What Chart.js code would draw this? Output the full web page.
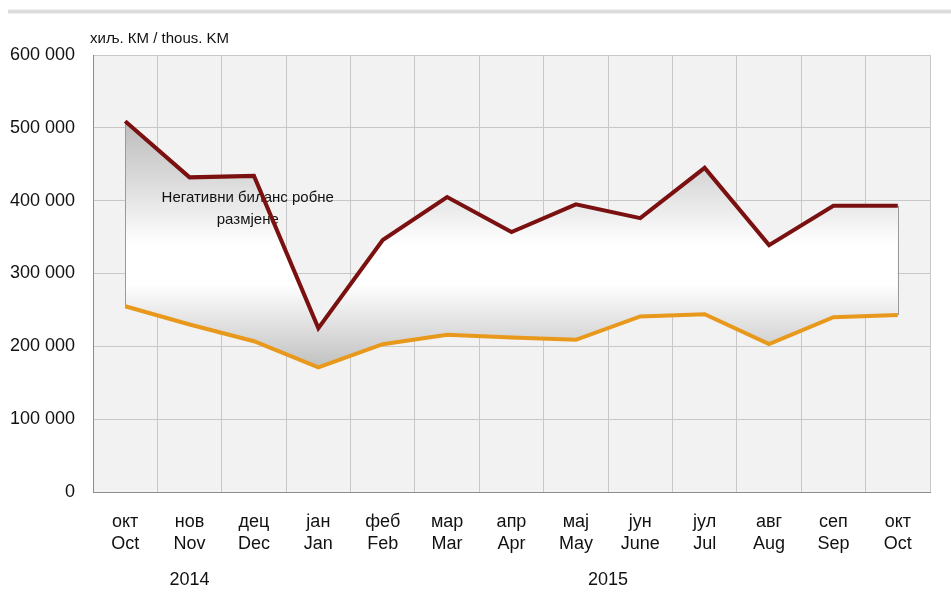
<!DOCTYPE html>
<html>
<head>
<meta charset="utf-8">
<script src="https://cdn.jsdelivr.net/npm/chart.js@4/dist/chart.umd.min.js"></script>
<style>
  html, body { margin: 0; padding: 0; background: #fff; }
  #wrap { position: relative; width: 951px; height: 607px; }
  #topline {
    position: absolute; left: 8px; right: 0; top: 9px; height: 5px;
    background: linear-gradient(to bottom, #f4f4f4, #d6d6d6 50%, #f0f0f0);
  }
  canvas { position: absolute; left: 0; top: 0; }
</style>
</head>
<body>
<div id="wrap">
  <div id="topline"></div>
  <canvas id="balanceChart" width="951" height="607"></canvas>
</div>
<script>
// месеци / months
const monthsSr = ['окт', 'нов', 'дец', 'јан', 'феб', 'мар', 'апр', 'мај', 'јун', 'јул', 'авг', 'сеп', 'окт'];
const monthsEn = ['Oct', 'Nov', 'Dec', 'Jan', 'Feb', 'Mar', 'Apr', 'May', 'June', 'Jul', 'Aug', 'Sep', 'Oct'];
const years = ['2014', '2015'];

// хиљ. КМ / thous. KM
const imports = [509000, 432000, 434000, 225000, 346000, 405000, 357000, 395000, 376000, 445000, 339000, 393000, 393000];
const exports = [255000, 230000, 207000, 171000, 203000, 216000, 212000, 209000, 241000, 244000, 203000, 240000, 243000];

const yTicks = [0, 100000, 200000, 300000, 400000, 500000, 600000];

const unitLabel = 'хиљ. КМ / thous. KM';
const noteLines = ['Негативни биланс робне', 'размјене'];

const FONT = "'Liberation Sans Narrow', 'Arial Narrow', 'Liberation Sans', Arial, sans-serif";

const labels = monthsSr.map((m, i) => [m, monthsEn[i]]);

function fmt(v) {
    return String(v).replace(/\B(?=(\d{3})+(?!\d))/g, ' ');
}

function balanceFill(context) {
    const chart = context.chart;
    const area = chart.chartArea;
    if (!area) return '#e0e0e0';
    const y = chart.scales.y;
    const top = y.getPixelForValue(Math.max(...imports));
    const bottom = y.getPixelForValue(Math.min(...exports));
    const g = chart.ctx.createLinearGradient(0, top, 0, bottom);
    g.addColorStop(0, '#bcbcbc');
    g.addColorStop(0.25, '#dcdcdc');
    g.addColorStop(0.5, '#ffffff');
    g.addColorStop(0.66, '#ffffff');
    g.addColorStop(1, '#c0c0c0');
    return g;
}

// позадина, ивице попуне и текстови
const extras = {
    id: 'extras',
    beforeDraw(chart) {
        const { ctx, chartArea: a } = chart;
        ctx.save();
        ctx.fillStyle = '#f2f2f2';
        ctx.fillRect(a.left, a.top, a.right - a.left, a.bottom - a.top);
        ctx.restore();
    },
    beforeDatasetsDraw(chart) {
        const { ctx } = chart;
        const x = chart.scales.x, y = chart.scales.y;
        const last = imports.length - 1;
        ctx.save();
        ctx.strokeStyle = '#9a9a9a';
        ctx.lineWidth = 1;
        [0, last].forEach(i => {
            const px = Math.round(x.getPixelForValue(i)) + 0.5;
            ctx.beginPath();
            ctx.moveTo(px, y.getPixelForValue(imports[i]));
            ctx.lineTo(px, y.getPixelForValue(exports[i]));
            ctx.stroke();
        });
        // натпис испод линија
        ctx.fillStyle = '#111';
        ctx.textBaseline = 'middle';
        ctx.textAlign = 'center';
        ctx.font = '15px ' + FONT;
        const nx = (x.getPixelForValue(1) + x.getPixelForValue(2)) / 2 + 26;
        ctx.fillText(noteLines[0], nx, 198);
        ctx.fillText(noteLines[1], nx, 220);
        ctx.restore();
    },
    afterDraw(chart) {
        const { ctx, chartArea: a } = chart;
        const x = chart.scales.x;
        ctx.save();
        ctx.fillStyle = '#111';
        ctx.textBaseline = 'middle';
        ctx.font = '15px ' + FONT;
        ctx.textAlign = 'left';
        ctx.fillText(unitLabel, a.left - 3, 39);

        ctx.textAlign = 'center';
        ctx.font = '18px ' + FONT;
        ctx.fillText(years[0], x.getPixelForValue(1), 580);
        ctx.fillText(years[1], (x.getPixelForValue(7) + x.getPixelForValue(8)) / 2, 580);
        ctx.restore();
    }
};

const ctx = document.getElementById('balanceChart').getContext('2d');
const balanceChart = new Chart(ctx, {
    type: 'line',
    data: {
        labels: labels,
        datasets: [{
            label: 'Увоз / Imports',
            data: imports,
            borderColor: '#7a1010',
            borderWidth: 4,
            pointRadius: 0,
            tension: 0,
            fill: '+1',
            backgroundColor: balanceFill
        }, {
            label: 'Извоз / Exports',
            data: exports,
            borderColor: '#e8991c',
            borderWidth: 4,
            pointRadius: 0,
            tension: 0,
            fill: false
        }]
    },
    options: {
        responsive: false,
        animation: false,
        layout: { padding: { top: 55, right: 21, left: 0, bottom: 0 } },
        plugins: {
            legend: { display: false },
            tooltip: { enabled: false },
            filler: { drawTime: 'beforeDatasetsDraw' }
        },
        scales: {
            x: {
                offset: true,
                grid: { offset: true, color: '#c8c8c8', drawTicks: false },
                border: { color: '#8c8c8c', width: 1 },
                ticks: {
                    color: '#111',
                    padding: 19,
                    maxRotation: 0,
                    autoSkip: false,
                    font: { family: FONT, size: 18, lineHeight: 1.22 }
                },
                afterFit: s => { s.height = 607 - 492; }
            },
            y: {
                min: 0,
                max: 600000,
                afterBuildTicks: s => { s.ticks = yTicks.map(v => ({ value: v })); },
                grid: { color: '#c8c8c8', drawTicks: false },
                border: { color: '#8c8c8c', width: 1 },
                ticks: {
                    color: '#111',
                    padding: 18,
                    font: { family: FONT, size: 18 },
                    callback: v => fmt(v)
                },
                afterFit: s => { s.width = 93; }
            }
        }
    },
    plugins: [extras]
});
</script>
</body>
</html>
